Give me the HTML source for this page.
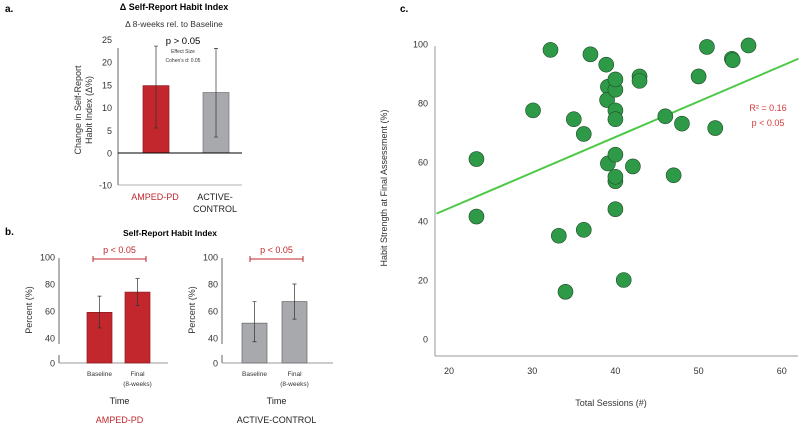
<!DOCTYPE html>
<html><head><meta charset="utf-8"><style>
body{margin:0;background:#fff;}
svg{display:block;font-family:"Liberation Sans",sans-serif;}
</style></head><body>
<svg id="fig" width="800" height="424" viewBox="0 0 800 424">
<g id="pa"></g>
<g id="pb"></g>
<g id="pc"></g>
</svg>
<script>
// Panel a data
const aGroups = ["AMPED-PD", "ACTIVE-CONTROL"];
const aValues = [14.8, 13.3];
const aErrLo = [5.5, 3.5];
const aErrHi = [23.5, 23];
const aTicks = [-10, 0, 5, 10, 15, 20, 25];
// Panel b data
const bCategories = ["Baseline", "Final"];
const bAmped = [59, 74];
const bAmpedLo = [47.5, 64];
const bAmpedHi = [71, 84];
const bControl = [51, 67];
const bControlLo = [34, 54];
const bControlHi = [67, 80];
const bTicks = [0, 40, 60, 80, 100];
// Panel c data
const cSessions = [23.3,23.3,30.1,32.2,33.2,34.0,35.0,36.2,36.2,37.0,38.9,39.1,39.0,39.1,40,40,40,40,40,40,40,40,41,42.1,42.9,42.9,46,47,48,50,51,52,54,54.1,56];
const cHabit = [61,41.5,77.5,98,35,16,74.5,69.5,37,96.5,93,85.5,81,59.5,84.5,88,77.5,74.5,62.5,53.5,55,44,20,58.5,89,87.5,75.5,55.5,73,89,99,71.5,95,94.5,99.5];
const cXTicks = [20,30,40,50,60];
const cYTicks = [0,20,40,60,80,100];
const cFit = [18.5, 42.5, 62, 95];

const NS="http://www.w3.org/2000/svg";
function mk(parent,tag,attrs,text){const e=document.createElementNS(NS,tag);for(const k in attrs)e.setAttribute(k,attrs[k]);if(text!==undefined)e.textContent=text;parent.appendChild(e);return e;}
const RED="#c1272d", GRAY="#a7a9ac";

// ---------- Panel A ----------
const pa=document.getElementById('pa');
let t;
t=mk(pa,'text',{x:5,y:12,'font-size':10,'font-weight':'bold'},'a.');


t=mk(pa,'text',{x:174,y:10,'font-size':9,'font-weight':'bold','text-anchor':'middle'},'Δ Self-Report Habit Index');


t=mk(pa,'text',{x:174,y:27,'font-size':8.5,'text-anchor':'middle',fill:'#333'},'Δ 8-weeks rel. to Baseline');


// broken axis: positive scale 4.55 px/unit; -10 compressed to y=185
const ay=v=> v>=0 ? 153-v*4.55 : 153-v*3.2;
let l=mk(pa,'line',{x1:118,y1:48,x2:118,y2:185,stroke:'#666','stroke-width':1});


l=mk(pa,'line',{x1:118,y1:185,x2:242,y2:185,stroke:'#999','stroke-width':0.8});


aTicks.forEach(v=>{const tt=mk(pa,'text',{x:112,y:ay(v)+3.5,'font-size':9,'text-anchor':'end',fill:'#333'},String(v));

});
const aX=[143,203], aC=[RED,GRAY], aS=["#8d1c20","#777"];
aValues.forEach((v,i)=>{
 const r=mk(pa,'rect',{x:aX[i],y:ay(v),width:26,height:ay(0)-ay(v),fill:aC[i],stroke:aS[i],'stroke-width':0.7});
 
 
 const cx=aX[i]+13;
 const e=mk(pa,'path',{d:`M${cx},${ay(aErrLo[i])}V${ay(aErrHi[i])}M${cx-2},${ay(aErrLo[i])}h4M${cx-2},${ay(aErrHi[i])}h4`,stroke:'#333','stroke-width':0.7,fill:'none'});
 
 
});
l=mk(pa,'line',{x1:118,y1:ay(0),x2:242,y2:ay(0),stroke:'#000','stroke-width':1});


t=mk(pa,'text',{x:183,y:44,'font-size':9.5,'text-anchor':'middle'},'p > 0.05');


t=mk(pa,'text',{x:183,y:53,'font-size':5,'text-anchor':'middle',fill:'#333'},'Effect Size');


t=mk(pa,'text',{x:183,y:62,'font-size':5,'text-anchor':'middle',fill:'#333'},'Cohen’s d: 0.05');


t=mk(pa,'text',{transform:'translate(81,110) rotate(-90)','font-size':9,'text-anchor':'middle',fill:'#333'});


mk(t,'tspan',{x:0,y:0},'Change in Self-Report');
mk(t,'tspan',{x:0,y:11},'Habit Index  (Δ%)');
t=mk(pa,'text',{x:155,y:200,'font-size':9,'text-anchor':'middle',fill:RED},aGroups[0]);


t=mk(pa,'text',{x:215,y:200,'font-size':9,'text-anchor':'middle',fill:'#222'},'ACTIVE-');


t=mk(pa,'text',{x:215,y:212,'font-size':9,'text-anchor':'middle',fill:'#222'},'CONTROL');



// ---------- Panel B ----------
const pb=document.getElementById('pb');
t=mk(pb,'text',{x:5,y:235,'font-size':10,'font-weight':'bold'},'b.');


t=mk(pb,'text',{x:170,y:236,'font-size':8.5,'font-weight':'bold','text-anchor':'middle'},'Self-Report Habit Index');


function by(v){
 if(v>=40) return 338-(v-40)*27/20;
 return 363-v*25/40;
}
function subChart(ax,endX,barX,vals,lo,hi,color,stroke,group,groupColor,bracketX,nm){
 let l=mk(pb,'line',{x1:ax,y1:258,x2:ax,y2:344,stroke:'#666','stroke-width':1});
 
 
 l=mk(pb,'line',{x1:ax,y1:355,x2:ax,y2:363,stroke:'#666','stroke-width':1});
 
 
 l=mk(pb,'line',{x1:ax,y1:363,x2:endX,y2:363,stroke:'#999','stroke-width':1});
 
 
 bTicks.forEach(v=>{const tt=mk(pb,'text',{x:ax-4,y:by(v)+3.5,'font-size':9,'text-anchor':'end',fill:'#333'},String(v));
 
 });
 vals.forEach((v,i)=>{
  const r=mk(pb,'rect',{x:barX[i],y:by(v),width:25,height:363-by(v),fill:color,stroke:stroke,'stroke-width':0.7});
  
  
  const cx=barX[i]+12.5;
  const e=mk(pb,'path',{d:`M${cx},${by(lo[i])}V${by(hi[i])}M${cx-2},${by(lo[i])}h4M${cx-2},${by(hi[i])}h4`,stroke:'#333','stroke-width':0.7,fill:'none'});
  
  
 });
 const b=mk(pb,'path',{d:`M${bracketX[0]},${by(100)+2}H${bracketX[1]}M${bracketX[0]},${by(100)-1}v6M${bracketX[1]},${by(100)-1}v6`,stroke:RED,'stroke-width':1,fill:'none'});
 
 
 const mid=(bracketX[0]+bracketX[1])/2;
 let t=mk(pb,'text',{x:mid,y:by(100)-4,'font-size':9,'text-anchor':'middle',fill:RED},'p < 0.05');
 
 
 t=mk(pb,'text',{x:barX[0]+12.5,y:376,'font-size':6.5,'text-anchor':'middle',fill:'#333'},bCategories[0]);
 
 
 t=mk(pb,'text',{x:barX[1]+12.5,y:376,'font-size':6.5,'text-anchor':'middle',fill:'#333'},bCategories[1]);
 
 
 t=mk(pb,'text',{x:barX[1]+12.5,y:386,'font-size':6.5,'text-anchor':'middle',fill:'#333'},'(8-weeks)');
 
 
 t=mk(pb,'text',{x:mid,y:404,'font-size':9,'text-anchor':'middle',fill:'#222'},'Time');
 
 
 t=mk(pb,'text',{x:mid,y:423,'font-size':9,'text-anchor':'middle',fill:groupColor},group);
 
 
 t=mk(pb,'text',{transform:`translate(${ax-27},310) rotate(-90)`,'font-size':9,'text-anchor':'middle',fill:'#333'},'Percent (%)');
 
 
}
subChart(59,168,[87,125],bAmped,bAmpedLo,bAmpedHi,RED,"#8d1c20","AMPED-PD",RED,[93,146],'panel-b-amped');
subChart(222,333,[242,282],bControl,bControlLo,bControlHi,GRAY,"#666","ACTIVE-CONTROL","#222",[250,303],'panel-b-control');

// ---------- Panel C ----------
const pc=document.getElementById('pc');
const cx=v=>449+(v-20)*8.32;
const cy=v=>339-v*2.95;
t=mk(pc,'text',{x:400,y:12,'font-size':10,'font-weight':'bold'},'c.');


l=mk(pc,'line',{x1:435,y1:46,x2:435,y2:356,stroke:'#999','stroke-width':1});


l=mk(pc,'line',{x1:435,y1:356,x2:798,y2:356,stroke:'#999','stroke-width':1});


cXTicks.forEach(v=>{const tt=mk(pc,'text',{x:cx(v),y:374,'font-size':9,'text-anchor':'middle',fill:'#333'},String(v));

});
cYTicks.forEach(v=>{const tt=mk(pc,'text',{x:428,y:cy(v)+3.5,'font-size':9,'text-anchor':'end',fill:'#333'},String(v));

});
l=mk(pc,'line',{x1:cx(cFit[0]),y1:cy(cFit[1]),x2:cx(cFit[2]),y2:cy(cFit[3]),stroke:'#4cc947','stroke-width':2});


cSessions.forEach((s,i)=>{
 const c=mk(pc,'circle',{cx:cx(s),cy:cy(cHabit[i]),r:7.5,fill:'#2e9a47',stroke:'#1f4a27','stroke-width':0.6});
 
 
});
t=mk(pc,'text',{x:768,y:111,'font-size':9,'text-anchor':'middle',fill:'#d43a3a'},'R² = 0.16');


t=mk(pc,'text',{x:768,y:126,'font-size':9,'text-anchor':'middle',fill:'#d43a3a'},'p < 0.05');


t=mk(pc,'text',{x:611,y:406,'font-size':9,'text-anchor':'middle',fill:'#333'},'Total Sessions (#)');


t=mk(pc,'text',{transform:'translate(387,188) rotate(-90)','font-size':9,'text-anchor':'middle',fill:'#333'},'Habit Strength at Final  Assessment (%)');


</script>
</body></html>
